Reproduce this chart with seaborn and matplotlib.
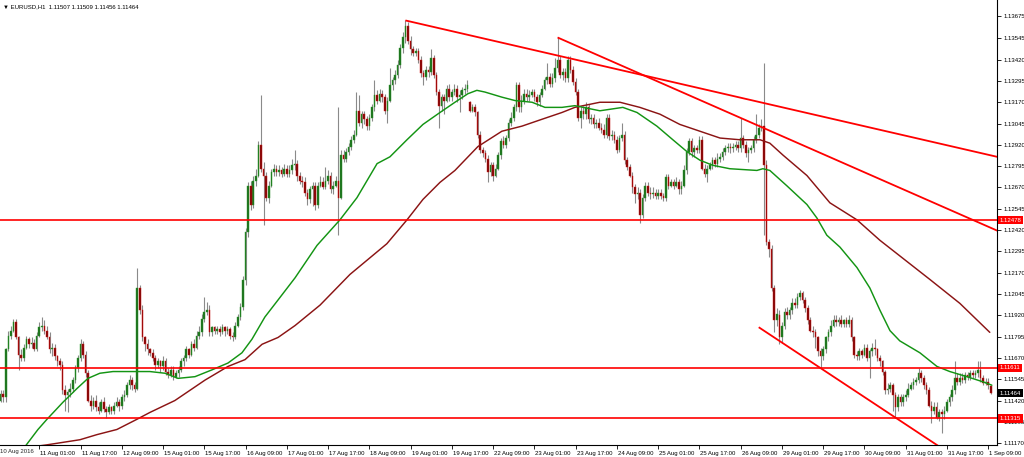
import numpy as np
import pandas as pd
import matplotlib
matplotlib.use("Agg")
import matplotlib.pyplot as plt
import matplotlib.transforms as mtransforms
import seaborn as sns

# ---------------- data (EURUSD H1, 10 Aug 2016 09:00 -> 1 Sep 2016 10:00) ----------------
opens = [
 1.1145, 1.1142, 1.1146, 1.1144, 1.1172, 1.1180, 1.1183, 1.1188, 1.1179, 1.1169,
 1.1167, 1.1173, 1.1178, 1.1175, 1.1176, 1.1172, 1.1180, 1.1185, 1.1186, 1.1183,
 1.1179, 1.1172, 1.1173, 1.1168, 1.1165, 1.1163, 1.1148, 1.1145, 1.1147, 1.1149,
 1.1154, 1.1161, 1.1167, 1.1175, 1.1169, 1.1158, 1.1142, 1.1139, 1.1142, 1.1138,
 1.1136, 1.1141, 1.1137, 1.1135, 1.1138, 1.1136, 1.1139, 1.1141, 1.1139, 1.1144,
 1.1145, 1.1151, 1.1154, 1.1151, 1.1149, 1.1208, 1.1195, 1.1179, 1.1175, 1.1172,
 1.1170, 1.1167, 1.1163, 1.1165, 1.1162, 1.1165, 1.1159, 1.1157, 1.1160, 1.1156,
 1.1158, 1.1160, 1.1165, 1.1167, 1.1172, 1.1169, 1.1175, 1.1173, 1.1180, 1.1182,
 1.1190, 1.1194, 1.1195, 1.1182, 1.1185, 1.1183, 1.1184, 1.1182, 1.1185, 1.1183,
 1.1184, 1.1180, 1.1179, 1.1186, 1.1191, 1.1197, 1.1213, 1.1241, 1.1268, 1.1257,
 1.1271, 1.1274, 1.1292, 1.1278, 1.1274, 1.1261, 1.1268, 1.1276, 1.1278, 1.1276,
 1.1277, 1.1275, 1.1278, 1.1275, 1.1277, 1.1280, 1.1281, 1.1274, 1.1271, 1.1270,
 1.1264, 1.1260, 1.1266, 1.1268, 1.1257, 1.1268, 1.1270, 1.1267, 1.1271, 1.1274,
 1.1266, 1.1268, 1.1271, 1.1261, 1.1286, 1.1284, 1.1288, 1.1291, 1.1295, 1.1298,
 1.1312, 1.1305, 1.1310, 1.1307, 1.1303, 1.1308, 1.1314, 1.1321, 1.1318, 1.1322,
 1.1320, 1.1312, 1.1318, 1.1327, 1.1330, 1.1333, 1.1339, 1.1349, 1.1355, 1.1362,
 1.1353, 1.1348, 1.1346, 1.1347, 1.1342, 1.1334, 1.1332, 1.1336, 1.1335, 1.1343,
 1.1333, 1.1323, 1.1315, 1.1320, 1.1318, 1.1325, 1.1320, 1.1323, 1.1325, 1.1320,
 1.1321, 1.1324, 1.1325, 1.1317, 1.1312, 1.1314, 1.1311, 1.1298, 1.1289, 1.1287,
 1.1284, 1.1276, 1.1280, 1.1274, 1.1278, 1.1286, 1.1294, 1.1292, 1.1296, 1.1305,
 1.1308, 1.1314, 1.1327, 1.1314, 1.1318, 1.1322, 1.1320, 1.1321, 1.1323, 1.1320,
 1.1317, 1.1321, 1.1325, 1.1330, 1.1332, 1.1328, 1.1331, 1.1337, 1.1342, 1.1333,
 1.1335, 1.1331, 1.1342, 1.1336, 1.1329, 1.1323, 1.1308, 1.1312, 1.1310, 1.1314,
 1.1307, 1.1308, 1.1304, 1.1305, 1.1302, 1.1301, 1.1298, 1.1308, 1.1297, 1.1298,
 1.1295, 1.1289, 1.1296, 1.1298, 1.1283, 1.1279, 1.1274, 1.1267, 1.1263, 1.1264,
 1.1251, 1.1261, 1.1268, 1.1264, 1.1263, 1.1264, 1.1262, 1.1264, 1.1262, 1.1261,
 1.1273, 1.1268, 1.1270, 1.1268, 1.1270, 1.1266, 1.1268, 1.1277, 1.1288, 1.1294,
 1.1288, 1.1290, 1.1289, 1.1295, 1.1278, 1.1275, 1.1278, 1.1280, 1.1283, 1.1281,
 1.1284, 1.1285, 1.1288, 1.1290, 1.1291, 1.1290, 1.1291, 1.1292, 1.1290, 1.1296,
 1.1292, 1.1287, 1.1289, 1.1290, 1.1295, 1.1298, 1.1302, 1.1303, 1.1280, 1.1235,
 1.1231, 1.1208, 1.1189, 1.1192, 1.1179, 1.1186, 1.1194, 1.1192, 1.1195, 1.1199,
 1.1198, 1.1203, 1.1205, 1.1201, 1.1196, 1.1189, 1.1183, 1.1182, 1.1179, 1.1171,
 1.1168, 1.1172, 1.1179, 1.1182, 1.1186, 1.1189, 1.1188, 1.1189, 1.1187, 1.1189,
 1.1187, 1.1189, 1.1179, 1.1169, 1.1168, 1.1171, 1.1169, 1.1173, 1.1167, 1.1171,
 1.1173, 1.1172, 1.1167, 1.1165, 1.1159, 1.1148, 1.1149, 1.1151, 1.1145, 1.1138,
 1.1144, 1.1141, 1.1144, 1.1145, 1.1149, 1.1151, 1.1153, 1.1154, 1.1158, 1.1155,
 1.1151, 1.1148, 1.1139, 1.1136, 1.1138, 1.1132, 1.1135, 1.1134, 1.1136, 1.1141,
 1.1144, 1.1148, 1.1155, 1.1153, 1.1155, 1.1154, 1.1157, 1.1156, 1.1158, 1.1157,
 1.1158, 1.1160, 1.1155, 1.1152, 1.1153, 1.11507]

closes = [
 1.1142, 1.1146, 1.1144, 1.1172, 1.1180, 1.1183, 1.1188, 1.1179, 1.1169, 1.1167,
 1.1173, 1.1178, 1.1175, 1.1176, 1.1172, 1.1180, 1.1185, 1.1186, 1.1183, 1.1179,
 1.1172, 1.1173, 1.1168, 1.1165, 1.1163, 1.1148, 1.1145, 1.1147, 1.1149, 1.1154,
 1.1161, 1.1167, 1.1175, 1.1169, 1.1158, 1.1142, 1.1139, 1.1142, 1.1138, 1.1136,
 1.1141, 1.1137, 1.1135, 1.1138, 1.1136, 1.1139, 1.1141, 1.1139, 1.1144, 1.1145,
 1.1151, 1.1154, 1.1151, 1.1149, 1.1208, 1.1195, 1.1179, 1.1175, 1.1172, 1.1170,
 1.1167, 1.1163, 1.1165, 1.1162, 1.1165, 1.1159, 1.1157, 1.1160, 1.1156, 1.1158,
 1.1160, 1.1165, 1.1167, 1.1172, 1.1169, 1.1175, 1.1173, 1.1180, 1.1182, 1.1190,
 1.1194, 1.1195, 1.1182, 1.1185, 1.1183, 1.1184, 1.1182, 1.1185, 1.1183, 1.1184,
 1.1180, 1.1179, 1.1186, 1.1191, 1.1197, 1.1213, 1.1241, 1.1268, 1.1257, 1.1271,
 1.1274, 1.1292, 1.1278, 1.1274, 1.1261, 1.1268, 1.1276, 1.1278, 1.1276, 1.1277,
 1.1275, 1.1278, 1.1275, 1.1277, 1.1280, 1.1281, 1.1274, 1.1271, 1.1270, 1.1264,
 1.1260, 1.1266, 1.1268, 1.1257, 1.1268, 1.1270, 1.1267, 1.1271, 1.1274, 1.1266,
 1.1268, 1.1271, 1.1261, 1.1286, 1.1284, 1.1288, 1.1291, 1.1295, 1.1298, 1.1312,
 1.1305, 1.1310, 1.1307, 1.1303, 1.1308, 1.1314, 1.1321, 1.1318, 1.1322, 1.1320,
 1.1312, 1.1318, 1.1327, 1.1330, 1.1333, 1.1339, 1.1349, 1.1355, 1.1362, 1.1353,
 1.1348, 1.1346, 1.1347, 1.1342, 1.1334, 1.1332, 1.1336, 1.1335, 1.1343, 1.1333,
 1.1323, 1.1315, 1.1320, 1.1318, 1.1325, 1.1320, 1.1323, 1.1325, 1.1320, 1.1321,
 1.1324, 1.1325, 1.1327, 1.1312, 1.1314, 1.1311, 1.1298, 1.1289, 1.1287, 1.1284,
 1.1276, 1.1280, 1.1274, 1.1278, 1.1286, 1.1294, 1.1292, 1.1296, 1.1305, 1.1308,
 1.1314, 1.1327, 1.1314, 1.1318, 1.1322, 1.1320, 1.1321, 1.1323, 1.1320, 1.1317,
 1.1321, 1.1325, 1.1330, 1.1332, 1.1328, 1.1331, 1.1337, 1.1342, 1.1333, 1.1335,
 1.1331, 1.1342, 1.1336, 1.1329, 1.1323, 1.1308, 1.1312, 1.1310, 1.1314, 1.1307,
 1.1308, 1.1304, 1.1305, 1.1302, 1.1301, 1.1298, 1.1308, 1.1297, 1.1298, 1.1295,
 1.1289, 1.1296, 1.1298, 1.1283, 1.1279, 1.1274, 1.1267, 1.1263, 1.1264, 1.1251,
 1.1261, 1.1268, 1.1264, 1.1263, 1.1264, 1.1262, 1.1264, 1.1262, 1.1261, 1.1273,
 1.1268, 1.1270, 1.1268, 1.1270, 1.1266, 1.1268, 1.1277, 1.1288, 1.1294, 1.1288,
 1.1290, 1.1289, 1.1295, 1.1278, 1.1275, 1.1278, 1.1280, 1.1283, 1.1281, 1.1284,
 1.1285, 1.1288, 1.1290, 1.1291, 1.1290, 1.1291, 1.1292, 1.1290, 1.1296, 1.1292,
 1.1287, 1.1289, 1.1290, 1.1295, 1.1298, 1.1302, 1.1303, 1.1280, 1.1235, 1.1231,
 1.1208, 1.1189, 1.1193, 1.1179, 1.1186, 1.1194, 1.1192, 1.1195, 1.1199, 1.1198,
 1.1203, 1.1205, 1.1201, 1.1196, 1.1189, 1.1183, 1.1182, 1.1179, 1.1171, 1.1168,
 1.1172, 1.1179, 1.1182, 1.1186, 1.1189, 1.1188, 1.1189, 1.1187, 1.1189, 1.1187,
 1.1189, 1.1179, 1.1169, 1.1168, 1.1171, 1.1169, 1.1173, 1.1167, 1.1171, 1.1173,
 1.1172, 1.1167, 1.1165, 1.1159, 1.1148, 1.1149, 1.1151, 1.1145, 1.1138, 1.1144,
 1.1141, 1.1144, 1.1145, 1.1149, 1.1151, 1.1153, 1.1154, 1.1158, 1.1155, 1.1151,
 1.1148, 1.1139, 1.1136, 1.1138, 1.1132, 1.1135, 1.1134, 1.1136, 1.1141, 1.1144,
 1.1148, 1.1155, 1.1153, 1.1155, 1.1154, 1.1157, 1.1156, 1.1158, 1.1157, 1.1158,
 1.1160, 1.1155, 1.1152, 1.1153, 1.1151, 1.11464]

highs = [
 1.1147, 1.1148, 1.1148, 1.1173, 1.1183, 1.1186, 1.1190, 1.1190, 1.1180, 1.1172,
 1.1175, 1.1180, 1.1179, 1.1179, 1.1178, 1.1182, 1.1188, 1.1191, 1.1189, 1.1186,
 1.1182, 1.1176, 1.1175, 1.1169, 1.1167, 1.1165, 1.1151, 1.1149, 1.1152, 1.1156,
 1.1163, 1.1169, 1.1178, 1.1177, 1.1171, 1.1160, 1.1145, 1.1144, 1.1145, 1.1141,
 1.1143, 1.1144, 1.1139, 1.1140, 1.1139, 1.1141, 1.1144, 1.1143, 1.1146, 1.1148,
 1.1153, 1.1157, 1.1156, 1.1153, 1.1220, 1.1210, 1.1198, 1.1180, 1.1178, 1.1173,
 1.1172, 1.1169, 1.1167, 1.1166, 1.1168, 1.1167, 1.1161, 1.1162, 1.1162, 1.1160,
 1.1162, 1.1167, 1.1169, 1.1174, 1.1173, 1.1177, 1.1178, 1.1183, 1.1186, 1.1193,
 1.1203, 1.1200, 1.1198, 1.1186, 1.1186, 1.1186, 1.1186, 1.1187, 1.1186, 1.1186,
 1.1185, 1.1182, 1.1188, 1.1193, 1.1199, 1.1215, 1.1243, 1.1270, 1.1271, 1.1274,
 1.1278, 1.1294, 1.1321, 1.1282, 1.1276, 1.1271, 1.1278, 1.1281, 1.1280, 1.1280,
 1.1279, 1.1281, 1.1280, 1.1280, 1.1284, 1.1289, 1.1283, 1.1276, 1.1274, 1.1273,
 1.1266, 1.1268, 1.1270, 1.1270, 1.1270, 1.1274, 1.1273, 1.1279, 1.1277, 1.1276,
 1.1271, 1.1274, 1.1314, 1.1289, 1.1289, 1.1290, 1.1293, 1.1297, 1.1301, 1.1323,
 1.1321, 1.1312, 1.1312, 1.1309, 1.1310, 1.1316, 1.1330, 1.1324, 1.1325, 1.1324,
 1.1322, 1.1320, 1.1337, 1.1332, 1.1336, 1.1342, 1.1351, 1.1358, 1.1365, 1.1364,
 1.1356, 1.1350, 1.1349, 1.1349, 1.1344, 1.1336, 1.1338, 1.1338, 1.1348, 1.1345,
 1.1335, 1.1325, 1.1322, 1.1322, 1.1327, 1.1328, 1.1325, 1.1328, 1.1327, 1.1324,
 1.1326, 1.1328, 1.1330, 1.1318, 1.1316, 1.1316, 1.1312, 1.1300, 1.1291, 1.1289,
 1.1286, 1.1282, 1.1282, 1.1281, 1.1288, 1.1296, 1.1297, 1.1298, 1.1307, 1.1311,
 1.1316, 1.1329, 1.1329, 1.1321, 1.1325, 1.1325, 1.1324, 1.1325, 1.1325, 1.1322,
 1.1323, 1.1327, 1.1332, 1.1340, 1.1334, 1.1334, 1.1343, 1.1355, 1.1344, 1.1337,
 1.1337, 1.1344, 1.1344, 1.1338, 1.1331, 1.1325, 1.1315, 1.1315, 1.1317, 1.1316,
 1.1310, 1.1310, 1.1307, 1.1308, 1.1305, 1.1304, 1.1310, 1.1310, 1.1301, 1.1300,
 1.1297, 1.1298, 1.1305, 1.1300, 1.1285, 1.1281, 1.1276, 1.1269, 1.1267, 1.1266,
 1.1263, 1.1270, 1.1270, 1.1267, 1.1267, 1.1266, 1.1266, 1.1266, 1.1264, 1.1275,
 1.1275, 1.1272, 1.1272, 1.1273, 1.1272, 1.1271, 1.1280, 1.1290, 1.1296, 1.1296,
 1.1292, 1.1292, 1.1297, 1.1297, 1.1281, 1.1280, 1.1282, 1.1285, 1.1285, 1.1287,
 1.1287, 1.1290, 1.1292, 1.1293, 1.1293, 1.1293, 1.1294, 1.1294, 1.1308, 1.1298,
 1.1294, 1.1291, 1.1292, 1.1297, 1.1310, 1.1304, 1.1307, 1.1340, 1.1283, 1.1237,
 1.1233, 1.1210, 1.1196, 1.1195, 1.1188, 1.1196, 1.1197, 1.1197, 1.1202, 1.1202,
 1.1205, 1.1207, 1.1206, 1.1203, 1.1198, 1.1191, 1.1186, 1.1184, 1.1180, 1.1173,
 1.1174, 1.1180, 1.1184, 1.1189, 1.1192, 1.1192, 1.1191, 1.1192, 1.1190, 1.1191,
 1.1192, 1.1191, 1.1180, 1.1171, 1.1173, 1.1172, 1.1175, 1.1175, 1.1172, 1.1176,
 1.1178, 1.1173, 1.1169, 1.1166, 1.1160, 1.1152, 1.1153, 1.1152, 1.1147, 1.1146,
 1.1146, 1.1146, 1.1148, 1.1152, 1.1153, 1.1155, 1.1156, 1.1161, 1.1160, 1.1157,
 1.1153, 1.1150, 1.1142, 1.1141, 1.1141, 1.1137, 1.1137, 1.1139, 1.1143, 1.1146,
 1.1151, 1.1165, 1.1158, 1.1158, 1.1158, 1.1159, 1.1159, 1.1160, 1.1160, 1.1160,
 1.1165, 1.1165, 1.1157, 1.1155, 1.1155, 1.11509]

lows = [
 1.1140, 1.1141, 1.1141, 1.1141, 1.1171, 1.1178, 1.1182, 1.1178, 1.1160, 1.1165,
 1.1165, 1.1172, 1.1173, 1.1173, 1.1171, 1.1171, 1.1179, 1.1183, 1.1181, 1.1178,
 1.1170, 1.1168, 1.1166, 1.1162, 1.1160, 1.1146, 1.1136, 1.1135, 1.1144, 1.1147,
 1.1152, 1.1159, 1.1165, 1.1167, 1.1156, 1.1141, 1.1136, 1.1137, 1.1136, 1.1134,
 1.1135, 1.1135, 1.1132, 1.1134, 1.1134, 1.1134, 1.1138, 1.1136, 1.1137, 1.1142,
 1.1144, 1.1149, 1.1148, 1.1147, 1.1148, 1.1193, 1.1177, 1.1171, 1.1169, 1.1168,
 1.1165, 1.1160, 1.1161, 1.1159, 1.1160, 1.1157, 1.1155, 1.1156, 1.1154, 1.1155,
 1.1156, 1.1159, 1.1162, 1.1165, 1.1167, 1.1168, 1.1171, 1.1172, 1.1178, 1.1180,
 1.1188, 1.1192, 1.1180, 1.1180, 1.1181, 1.1181, 1.1180, 1.1181, 1.1180, 1.1181,
 1.1178, 1.1177, 1.1178, 1.1185, 1.1189, 1.1195, 1.1210, 1.1238, 1.1254, 1.1255,
 1.1268, 1.1273, 1.1276, 1.1245, 1.1259, 1.1258, 1.1267, 1.1274, 1.1274, 1.1274,
 1.1273, 1.1274, 1.1273, 1.1273, 1.1275, 1.1277, 1.1271, 1.1269, 1.1267, 1.1262,
 1.1257, 1.1258, 1.1256, 1.1254, 1.1255, 1.1267, 1.1266, 1.1266, 1.1269, 1.1264,
 1.1263, 1.1267, 1.1239, 1.1260, 1.1282, 1.1282, 1.1286, 1.1289, 1.1293, 1.1297,
 1.1303, 1.1302, 1.1304, 1.1301, 1.1301, 1.1306, 1.1312, 1.1316, 1.1317, 1.1317,
 1.1310, 1.1305, 1.1317, 1.1324, 1.1328, 1.1331, 1.1337, 1.1346, 1.1352, 1.1351,
 1.1345, 1.1344, 1.1344, 1.1340, 1.1332, 1.1327, 1.1330, 1.1332, 1.1333, 1.1331,
 1.1321, 1.1302, 1.1312, 1.1310, 1.1317, 1.1318, 1.1318, 1.1321, 1.1317, 1.1311,
 1.1319, 1.1322, 1.1323, 1.1311, 1.1311, 1.1309, 1.1296, 1.1287, 1.1285, 1.1282,
 1.1270, 1.1274, 1.1271, 1.1273, 1.1277, 1.1284, 1.1290, 1.1290, 1.1294, 1.1303,
 1.1306, 1.1312, 1.1311, 1.1311, 1.1316, 1.1318, 1.1318, 1.1320, 1.1318, 1.1315,
 1.1315, 1.1320, 1.1324, 1.1328, 1.1326, 1.1326, 1.1329, 1.1335, 1.1331, 1.1330,
 1.1329, 1.1329, 1.1334, 1.1327, 1.1321, 1.1306, 1.1302, 1.1307, 1.1307, 1.1305,
 1.1304, 1.1302, 1.1302, 1.1301, 1.1299, 1.1296, 1.1296, 1.1295, 1.1295, 1.1293,
 1.1287, 1.1288, 1.1294, 1.1281, 1.1277, 1.1273, 1.1264, 1.1258, 1.1260, 1.1246,
 1.1249, 1.1259, 1.1262, 1.1260, 1.1261, 1.1260, 1.1260, 1.1260, 1.1259, 1.1259,
 1.1266, 1.1267, 1.1266, 1.1267, 1.1263, 1.1263, 1.1267, 1.1275, 1.1286, 1.1285,
 1.1285, 1.1287, 1.1287, 1.1277, 1.1273, 1.1270, 1.1277, 1.1278, 1.1279, 1.1279,
 1.1282, 1.1283, 1.1286, 1.1288, 1.1287, 1.1288, 1.1289, 1.1288, 1.1288, 1.1290,
 1.1285, 1.1282, 1.1287, 1.1288, 1.1293, 1.1296, 1.1300, 1.1239, 1.1233, 1.1226,
 1.1206, 1.1182, 1.1186, 1.1175, 1.1176, 1.1184, 1.1190, 1.1190, 1.1193, 1.1196,
 1.1196, 1.1201, 1.1199, 1.1194, 1.1187, 1.1182, 1.1179, 1.1173, 1.1168, 1.1161,
 1.1166, 1.1170, 1.1177, 1.1180, 1.1185, 1.1186, 1.1186, 1.1185, 1.1185, 1.1185,
 1.1185, 1.1177, 1.1167, 1.1166, 1.1166, 1.1167, 1.1168, 1.1165, 1.1155, 1.1168,
 1.1169, 1.1165, 1.1162, 1.1157, 1.1146, 1.1146, 1.1147, 1.1136, 1.1132, 1.1136,
 1.1139, 1.1139, 1.1142, 1.1144, 1.1148, 1.1149, 1.1151, 1.1152, 1.1153, 1.1149,
 1.1146, 1.1138, 1.1129, 1.1134, 1.1131, 1.1130, 1.1123, 1.1131, 1.1135, 1.1139,
 1.1142, 1.1146, 1.1151, 1.1151, 1.1152, 1.1152, 1.1154, 1.1154, 1.1155, 1.1155,
 1.1156, 1.1153, 1.1151, 1.1151, 1.1149, 1.11456]

# moving averages (bar position, price)
fast_bars = [0, 10.5, 15.5, 19.0, 25.2, 30.6, 34.9, 39.5, 44.6, 50.0, 58.9, 64.8,
             69.8, 76.4, 83.0, 89.2, 94.6, 98.5, 103.5, 108.6, 115.2, 123.7, 132.6,
             139.2, 147.0, 152.0, 158.6, 164.8, 171.4, 177.2, 182.2, 185.7, 188.8,
             195.4, 200.5, 207.1, 212.1, 218.7, 223.7, 233.4, 242.3, 247.8, 255.5,
             261.7, 267.2, 272.2, 277.2, 283.8, 294.3, 296.6, 299.3, 305.9, 313.7,
             317.6, 321.4, 326.5, 333.1, 338.1, 342.0, 345.9, 349.7, 357.5, 364.1,
             369.1, 375.7, 381.9, 385.4]
fast_ma = [1.1097, 1.1115, 1.1125, 1.1131, 1.1141, 1.1149, 1.1155, 1.1158, 1.1159,
           1.1159, 1.1159, 1.1158, 1.1155, 1.1156, 1.1160, 1.1164, 1.1170, 1.1178,
           1.1191, 1.1201, 1.1214, 1.1233, 1.1248, 1.1261, 1.1281, 1.1285, 1.1295,
           1.1304, 1.1311, 1.1317, 1.1322, 1.1324, 1.1323, 1.1320, 1.1318, 1.1317,
           1.1314, 1.1314, 1.1315, 1.1312, 1.1314, 1.1311, 1.1303, 1.1295, 1.1288,
           1.1283, 1.1280, 1.1278, 1.1277, 1.1278, 1.1277, 1.1268, 1.1257, 1.1249,
           1.1239, 1.1232, 1.1220, 1.1208, 1.1195, 1.1183, 1.1177, 1.1170, 1.1162,
           1.1159, 1.1156, 1.1153, 1.1151]
slow_bars = [0, 19.0, 31.8, 38.4, 46.1, 53.9, 58.9, 68.6, 80.3, 89.2, 95.8, 102.4,
             108.6, 115.2, 124.9, 136.5, 150.8, 158.6, 164.8, 171.4, 177.2, 186.1,
             195.4, 203.2, 210.9, 218.7, 223.7, 233.4, 241.2, 248.9, 256.7, 264.4,
             272.2, 280.0, 287.7, 295.5, 299.3, 304.4, 313.7, 322.6, 333.1, 342.0,
             361.4, 373.0, 384.6]
slow_ma = [1.1112, 1.1116, 1.1119, 1.1122, 1.1125, 1.1131, 1.1135, 1.1142, 1.1154,
           1.1162, 1.1166, 1.1175, 1.1179, 1.1186, 1.1198, 1.1216, 1.1234, 1.1248,
           1.1260, 1.1270, 1.1277, 1.1291, 1.1300, 1.1303, 1.1307, 1.1311, 1.1314,
           1.1317, 1.1317, 1.1314, 1.1310, 1.1304, 1.1300, 1.1296, 1.1295, 1.1295,
           1.1293, 1.1286, 1.1274, 1.1258, 1.1248, 1.1236, 1.1213, 1.1199, 1.1182]

# drawn trend lines (anchor bar, price)
trend1_bars = [158, 390]
trend1_prices = [1.1365, 1.12841]
trend2_bars = [217, 390]
trend2_prices = [1.1355, 1.1240]
trend3_bars = [295, 366]
trend3_prices = [1.1185, 1.1114]
levels = [1.12478, 1.11611, 1.11315]
last_price = 1.11464

ytick_values = [1.13675, 1.13545, 1.13420, 1.13295, 1.13170, 1.13045, 1.12920,
                1.12795, 1.12670, 1.12545, 1.12420, 1.12295, 1.12170, 1.12045,
                1.11920, 1.11795, 1.11670, 1.11545, 1.11420, 1.11295, 1.11170]
xtick_bars = [16, 32, 48, 64, 80, 96, 112, 128, 144, 160, 176, 192, 208, 224,
              240, 256, 272, 288, 304, 320, 336, 352, 368, 384]
xtick_labels = ["11 Aug 01:00", "11 Aug 17:00", "12 Aug 09:00", "15 Aug 01:00",
                "15 Aug 17:00", "16 Aug 09:00", "17 Aug 01:00", "17 Aug 17:00",
                "18 Aug 09:00", "19 Aug 01:00", "19 Aug 17:00", "22 Aug 09:00",
                "23 Aug 01:00", "23 Aug 17:00", "24 Aug 09:00", "25 Aug 01:00",
                "25 Aug 17:00", "26 Aug 09:00", "29 Aug 01:00", "29 Aug 17:00",
                "30 Aug 09:00", "31 Aug 01:00", "31 Aug 17:00", "1 Sep 09:00"]
first_label = "10 Aug 2016"
title_text = "\u25BC EURUSD,H1  1.11507 1.11509 1.11456 1.11464"

n = len(closes)
assert len(opens) == n and len(highs) == n and len(lows) == n, (len(opens), len(highs), len(lows), n)
assert len(fast_bars) == len(fast_ma) and len(slow_bars) == len(slow_ma)

# ---------------- style ----------------
sns.set_theme(style="white")
plt.rcParams['font.family'] = ['Liberation Sans', 'DejaVu Sans']
FS = 4.3

fig = plt.figure(figsize=(10.24, 4.57), dpi=100)
fig.patch.set_facecolor('white')
ax = fig.add_axes([0, 12 / 457, 997 / 1024, 445 / 457])
ax.set_facecolor('white')

df = pd.DataFrame({'bar': np.arange(n), 'open': opens, 'high': highs,
                   'low': lows, 'close': closes})
df['up'] = df['close'] >= df['open']
df['body_lo'] = df[['open', 'close']].min(axis=1)
df['body_h'] = (df['close'] - df['open']).abs().clip(lower=0.000025)

# wicks
ax.vlines(df['bar'], df['low'], df['high'], color='#8a8a8a', lw=0.8, zorder=2)
# bodies
up = df[df['up']]
dn = df[~df['up']]
ax.bar(up['bar'], up['body_h'], bottom=up['body_lo'], width=0.62,
       color='#1d6e1d', edgecolor='#2a9a2a', linewidth=0.3, zorder=3)
ax.bar(dn['bar'], dn['body_h'], bottom=dn['body_lo'], width=0.62,
       color='#7a0808', edgecolor='#d81010', linewidth=0.3, zorder=3)

# moving averages (seaborn)
slow_df = pd.DataFrame({'bar': slow_bars, 'ma': slow_ma})
fast_df = pd.DataFrame({'bar': fast_bars, 'ma': fast_ma})
sns.lineplot(data=slow_df, x='bar', y='ma', ax=ax, color='#8b1414', lw=1.05,
             zorder=4, sort=False)
sns.lineplot(data=fast_df, x='bar', y='ma', ax=ax, color='#139413', lw=1.05,
             zorder=4, sort=False)

# horizontal levels and trend lines
for lv in levels:
    ax.axhline(lv, color='#ff0000', lw=1.2, zorder=5)
for bx, py in [(trend1_bars, trend1_prices), (trend2_bars, trend2_prices),
               (trend3_bars, trend3_prices)]:
    ax.plot(bx, py, color='#ff0000', lw=1.3, zorder=5, solid_capstyle='butt')

ax.set_xlim(0.78, 387.4)
ax.set_ylim(1.11159, 1.13770)
ax.set_xlabel('')
ax.set_ylabel('')

for s in ['left', 'top']:
    ax.spines[s].set_visible(False)
for s in ['right', 'bottom']:
    ax.spines[s].set_color('black')
    ax.spines[s].set_linewidth(0.8)

# y axis on the right
ax.yaxis.tick_right()
ax.set_yticks(ytick_values)
ax.set_yticklabels([f"{v:.5f}" for v in ytick_values])
ax.tick_params(axis='y', which='both', direction='out', length=3, width=0.6,
               pad=2, labelsize=FS, colors='black', right=True, left=False)

# x axis
ax.set_xticks(xtick_bars)
ax.set_xticklabels(xtick_labels, ha='left')
ax.tick_params(axis='x', direction='out', length=3, width=0.6, pad=1,
               labelsize=FS, colors='black', bottom=True)
offset = mtransforms.ScaledTranslation(1 / 100, 0, fig.dpi_scale_trans)
for lbl in ax.get_xticklabels():
    lbl.set_transform(lbl.get_transform() + offset)
fig.text(0.5 / 1024, 1 - 451.5 / 457, first_label, fontsize=FS, va='center', ha='left')

# price tags on the right axis
for lv, col in [(levels[0], '#ff0000'), (levels[1], '#ff0000'),
                (levels[2], '#ff0000'), (last_price, '#000000')]:
    ax.annotate(f"{lv:.5f}", xy=(1.0, lv), xycoords=('axes fraction', 'data'),
                xytext=(1.8, 0), textcoords='offset points', fontsize=FS,
                color='white', va='center', ha='left', annotation_clip=False,
                zorder=10,
                bbox=dict(boxstyle='square,pad=0.3', fc=col, ec='none'))

# title line
fig.text(3 / 1024, 1 - 6.5 / 457, title_text, fontsize=FS, va='center', ha='left',
         color='black')

fig.savefig('out.png', dpi=100, facecolor='white')
